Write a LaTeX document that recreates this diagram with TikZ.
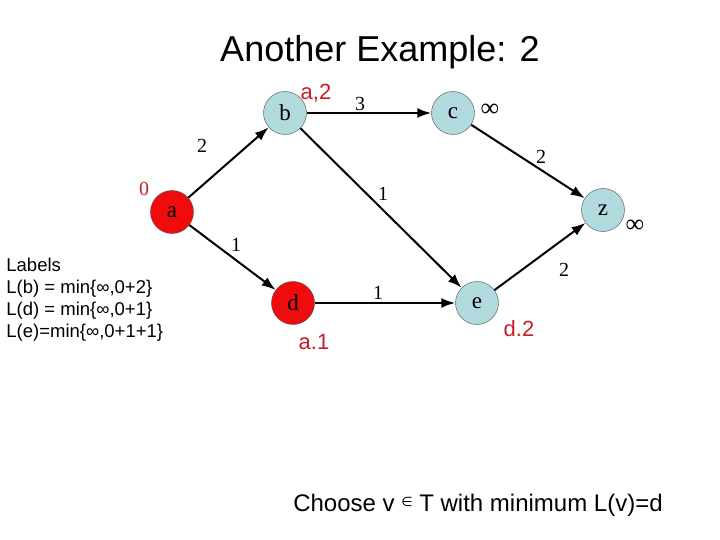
\documentclass[tikz,border=0pt]{standalone}
\usepackage{fontspec}
\setmainfont{Liberation Serif}
\newfontfamily\arial{Liberation Sans}
\newfontfamily\dejavu{DejaVu Sans}
\usetikzlibrary{arrows.meta}
\definecolor{labred}{RGB}{200,30,40}
\definecolor{nodered}{RGB}{238,12,12}
\definecolor{nodeblue}{RGB}{176,218,222}
\begin{document}
\begin{tikzpicture}[
      x=1pt,y=-1pt,
      thick,
      vertex/.style={
        circle,
        draw=black!70,
        thin,
        inner sep=0pt,
        minimum size=43pt,
        font=\fontsize{23}{23}\selectfont
      },
      bvertex/.style={vertex,fill=nodeblue},
      rvertex/.style={vertex,fill=nodered},
      weight/.style={font=\fontsize{20}{20}\selectfont},
      dist/.style={text=labred,font=\arial\fontsize{22}{22}\selectfont},
      edge/.style={line width=2pt,-{Latex[length=14pt,width=10pt]}}
    ]
      \useasboundingbox[fill=white] (0,0) rectangle (720,540);

      \node (title) at (380,52) [font=\arial\fontsize{36}{36}\selectfont]{Another Example: 2};

      \node (a) at (172,212) [rvertex]{a};
      \node (b) at (285,113) [bvertex]{b};
      \node (c) at (453,113) [bvertex]{c};
      \node (d) at (293,303) [rvertex]{d};
      \node (e) at (477,303) [bvertex]{e};
      \node (z) at (603,210) [bvertex]{z};

      \draw[edge] (a) -- (b);
      \draw[edge] (b) -- (c);
      \draw[edge] (c) -- (z);
      \draw[edge] (a) -- (d);
      \draw[edge] (b) -- (e);
      \draw[edge] (d) -- (e);
      \draw[edge] (e) -- (z);

      \node (wab) at (202,146) [weight]{2};
      \node (wbc) at (360,104) [weight]{3};
      \node (wcz) at (541,157) [weight]{2};
      \node (wbe) at (383,194) [weight]{1};
      \node (wad) at (236,245) [weight]{1};
      \node (wde) at (378,293) [weight]{1};
      \node (wez) at (564,270) [weight]{2};

      \node (la) at (144,189) [weight,text=labred]{0};
      \node (lb) at (316,93) [dist]{a,2};
      \node (lc) at (490,110) [font=\fontsize{26}{26}\selectfont]{∞};
      \node (lz) at (635,226) [font=\fontsize{26}{26}\selectfont]{∞};
      \node (ld) at (314,342) [dist]{a.1};
      \node (le) at (519,329) [dist]{d.2};

      \node (labels) at (6,258) [anchor=north west,inner sep=0pt,align=left,
        font=\arial\fontsize{18.5}{21.8}\selectfont]{Labels\\
        L(b) = min\{∞,0+2\}\\
        L(d) = min\{∞,0+1\}\\
        L(e)=min\{∞,0+1+1\}};

      \node (choose) at (478,505) [font=\arial\fontsize{24}{24}\selectfont]{Choose v
        {\dejavu\fontsize{13}{13}\selectfont\raisebox{5pt}{∈}} T with minimum L(v)=d};
    \end{tikzpicture}
\end{document}
